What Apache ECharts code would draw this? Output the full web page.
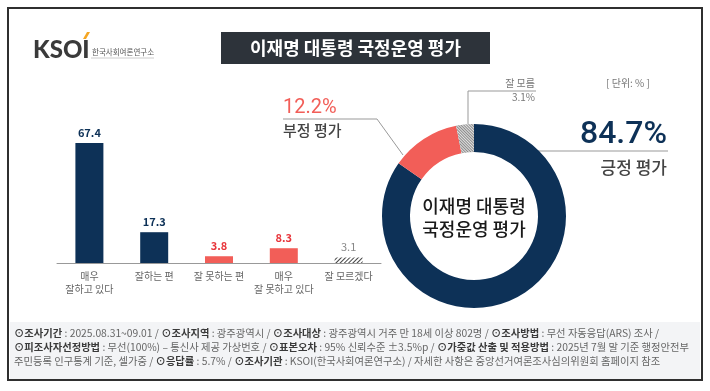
<!DOCTYPE html>
<html><head><meta charset="utf-8">
<script src="https://cdn.jsdelivr.net/npm/echarts@6/dist/echarts.min.js"></script>
<style>html,body{margin:0;padding:0;background:#fff}#c{width:710px;height:391px}</style>
</head><body><div id="c"></div>
<script>
// ---- data ----
var categories = ['매우\n잘하고 있다', '잘하는 편', '잘 못하는 편', '매우\n잘 못하고 있다', '잘 모르겠다'];
var barValues = [67.4, 17.3, 3.8, 8.3, 3.1];
var donutNames = ['긍정 평가', '부정 평가', '잘 모름'];
var donutValues = [84.7, 12.2, 3.1];
var titleText = '이재명 대통령 국정운영 평가';
var centerText = '이재명 대통령\n국정운영 평가';

// ---- styles ----
var NAVY = '#0d3157', RED = '#f25e58', REDTXT = '#e8353b';
var FONT = '"Noto Sans CJK KR", "Noto Sans", sans-serif';
var barColors = [NAVY, NAVY, RED, RED, '#fff'];
var barLabelColors = [NAVY, NAVY, REDTXT, REDTXT, '#888'];
var hatch = {symbol: 'rect', symbolSize: 1, dashArrayX: [1, 0], dashArrayY: [1, 2], rotation: -Math.PI / 4, color: '#444', backgroundColor: '#fff'};
var hatchGray = {symbol: 'rect', symbolSize: 1, dashArrayX: [1, 0], dashArrayY: [1, 1], rotation: Math.PI / 4, color: '#8a8a8a', backgroundColor: '#e2e2e2'};

var barData = barValues.map(function (v, i) {
  var it = {value: v, itemStyle: {color: barColors[i]}, label: {color: barLabelColors[i], fontWeight: i < 4 ? 'bold' : 'normal'}};
  if (i === 4) it.itemStyle.decal = hatch;
  return it;
});
var donutColors = [NAVY, RED, '#cccccc'];
var donutData = donutValues.map(function (v, i) {
  var it = {name: donutNames[i], value: v, itemStyle: {color: donutColors[i]}};
  if (i === 2) it.itemStyle.decal = hatchGray;
  return it;
});

function pct(v) { return v.toFixed(1) + '%'; }

var footerLines = [
  '{b|⊙조사기간} : 2025.08.31~09.01 / {b|⊙조사지역} : 광주광역시 / {b|⊙조사대상} : 광주광역시 거주 만 18세 이상 802명 / {b|⊙조사방법} : 무선 자동응답(ARS) 조사 /',
  '{b|⊙피조사자선정방법} : 무선(100%) – 통신사 제공 가상번호 / {b|⊙표본오차} : 95% 신뢰수준 ±3.5%p / {b|⊙가중값 산출 및 적용방법} : 2025년 7월 말 기준 행정안전부',
  '주민등록 인구통계 기준, 셀가중 / {b|⊙응답률} : 5.7% / {b|⊙조사기관} : KSOI(한국사회여론연구소) / 자세한 사항은 중앙선거여론조사심의위원회 홈페이지 참조'
];

var chart = echarts.init(document.getElementById('c'), null, {renderer: 'canvas'});
var graphics = [
  {type: 'rect', shape: {x: 10, y: 322, width: 690, height: 57}, style: {fill: '#f3f4f6'}, z: -1},
  {type: 'rect', shape: {x: 8, y: 8, width: 694, height: 372}, style: {fill: null, stroke: '#2f2f2f', lineWidth: 2}},
  // logo
  {type: 'text', x: 33, y: 38, style: {text: 'KSOI', font: '900 24px Lato, sans-serif', fill: '#3a3a3a'}},
  {type: 'polygon', shape: {points: [[83, 39], [86, 39], [90, 32], [87, 32]]}, style: {fill: '#f5a623'}},
  {type: 'text', x: 92, y: 48, style: {text: '한국사회여론연구소', font: '7.5px ' + FONT, fill: '#555'}},
  {type: 'line', shape: {x1: 91, y1: 58, x2: 154, y2: 58}, style: {stroke: '#ccc', lineWidth: 1}},
  // title
  {type: 'rect', shape: {x: 221, y: 32, width: 269, height: 32}, style: {fill: '#2d333a'}},
  {type: 'text', x: 355.5, y: 48, style: {text: titleText, font: 'bold 18px ' + FONT, fill: '#fff', align: 'center', verticalAlign: 'middle'}},
  // unit
  {type: 'text', x: 628, y: 83, style: {text: '[ 단위: % ]', font: '10px ' + FONT, fill: '#777', align: 'center', verticalAlign: 'middle'}},
  // donut center text
  {type: 'text', x: 474, y: 218, style: {text: centerText, font: '500 18px ' + FONT, lineHeight: 23, fill: '#1a1a1a', align: 'center', verticalAlign: 'middle'}},
  // positive label
  {type: 'text', x: 667, y: 135, style: {text: pct(donutValues[0]), font: '500 32px Roboto, ' + FONT, fill: NAVY, align: 'right', verticalAlign: 'middle'}},
  {type: 'polyline', shape: {points: [[538, 151], [668, 151]]}, style: {stroke: '#999', lineWidth: 1}},
  {type: 'text', x: 667, y: 168, style: {text: donutNames[0], font: '500 17px ' + FONT, fill: '#444', align: 'right', verticalAlign: 'middle'}},
  // negative label
  {type: 'text', x: 283, y: 108, style: {text: pct(donutValues[1]), font: '20px Roboto, ' + FONT, fill: RED, align: 'left', verticalAlign: 'middle'}},
  {type: 'polyline', shape: {points: [[283, 119], [377, 119], [403, 155]]}, style: {stroke: '#999', lineWidth: 1}},
  {type: 'text', x: 283, y: 130, style: {text: donutNames[1], font: '500 15px ' + FONT, fill: '#444', align: 'left', verticalAlign: 'middle'}},
  // unknown label
  {type: 'text', x: 535, y: 83, style: {text: '잘 모름', font: '10px ' + FONT, fill: '#777', align: 'right', verticalAlign: 'middle'}},
  {type: 'polyline', shape: {points: [[536, 91], [468, 91], [468, 124]]}, style: {stroke: '#999', lineWidth: 1}},
  {type: 'text', x: 535, y: 97, style: {text: pct(donutValues[2]), font: '10px ' + FONT, fill: '#777', align: 'right', verticalAlign: 'middle'}}
];
footerLines.forEach(function (l, i) {
  graphics.push({type: 'text', x: 14, y: 333 + i * 14, style: {text: l, font: '10.3px ' + FONT, fill: '#666', verticalAlign: 'middle',
    rich: {b: {fontWeight: 'bold', fill: '#3a3a3a', fontFamily: FONT, fontSize: 10.3}}}});
});

chart.setOption({
  animation: false,
  textStyle: {fontFamily: FONT},
  grid: {left: 57, right: 329, top: 120.6, bottom: 128},
  xAxis: {type: 'category', data: categories,
    axisLine: {lineStyle: {color: '#999'}},
    axisTick: {length: 3, lineStyle: {color: '#999'}},
    axisLabel: {interval: 0, fontSize: 10, color: '#666', lineHeight: 13, margin: 7}},
  yAxis: {type: 'value', min: 0, max: 80, show: false, splitLine: {show: false}},
  series: [
    {type: 'bar', data: barData, barWidth: 28,
      label: {show: true, position: 'top', distance: 5, fontSize: 11, fontFamily: FONT}},
    {type: 'pie', center: [474, 216], radius: [64, 92], startAngle: 90, clockwise: true,
      label: {show: false}, labelLine: {show: false}, silent: true, data: donutData}
  ],
  graphic: graphics
});
</script></body></html>
